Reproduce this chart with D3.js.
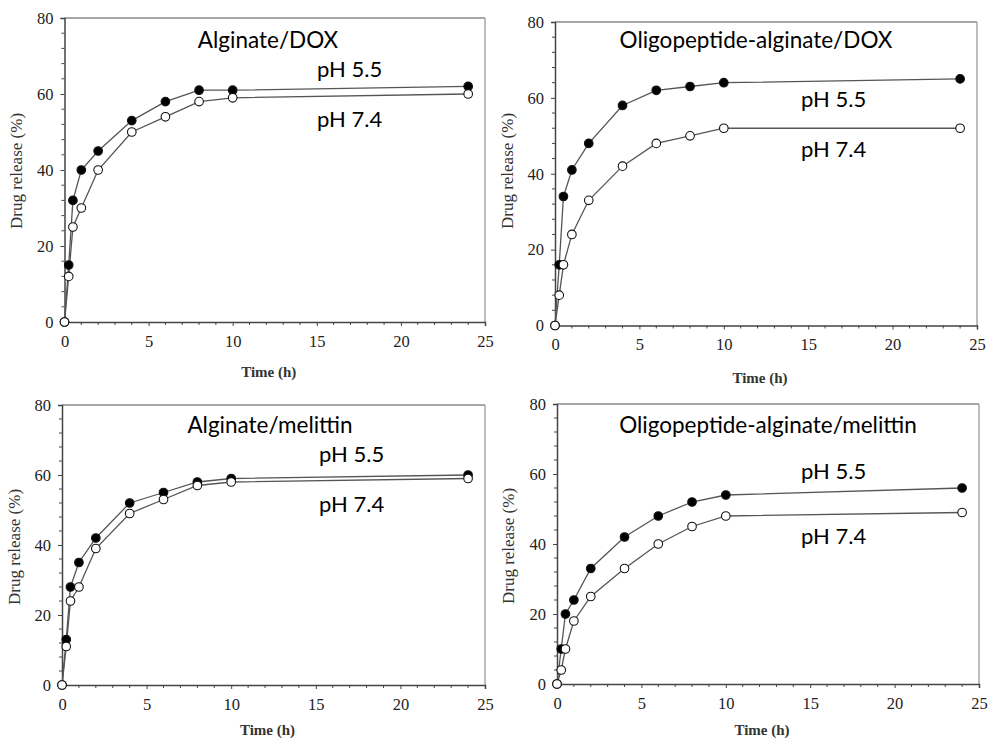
<!DOCTYPE html>
<html>
<head>
<meta charset="utf-8">
<script src="https://cdn.jsdelivr.net/npm/d3@7"></script>
<style>
  html, body { margin: 0; padding: 0; background: #fff; }
  svg { display: block; }
</style>
</head>
<body>
<svg id="chart" width="988" height="740"></svg>
<script>
// ---- data ----
const timePoints = [0, 0.25, 0.5, 1, 2, 4, 6, 8, 10, 24];
const panelTitles = ["Alginate/DOX", "Oligopeptide-alginate/DOX", "Alginate/melittin", "Oligopeptide-alginate/melittin"];
const seriesNames = ["pH 5.5", "pH 7.4"];
const alginateDOX_pH55 = [0, 15, 32, 40, 45, 53, 58, 61, 61, 62];
const alginateDOX_pH74 = [0, 12, 25, 30, 40, 50, 54, 58, 59, 60];
const oligoDOX_pH55 = [0, 16, 34, 41, 48, 58, 62, 63, 64, 65];
const oligoDOX_pH74 = [0, 8, 16, 24, 33, 42, 48, 50, 52, 52];
const alginateMel_pH55 = [0, 13, 28, 35, 42, 52, 55, 58, 59, 60];
const alginateMel_pH74 = [0, 11, 24, 28, 39, 49, 53, 57, 58, 59];
const oligoMel_pH55 = [0, 10, 20, 24, 33, 42, 48, 52, 54, 56];
const oligoMel_pH74 = [0, 4, 10, 18, 25, 33, 40, 45, 48, 49];
const xTicks = [0, 5, 10, 15, 20, 25];
const yTicks = [0, 20, 40, 60, 80];
const xLabel = "Time (h)";
const yLabel = "Drug release (%)";

// ---- layout ----
const panels = [
  { title: panelTitles[0], s55: alginateDOX_pH55, s74: alginateDOX_pH74,
    l: 64.5, r: 485, t: 18, b: 322, titleX: 268, titleY: 48, lblX: 317, lbl55Y: 77, lbl74Y: 127, xlY: 377, ylX: 22, ylY: 171 },
  { title: panelTitles[1], s55: oligoDOX_pH55, s74: oligoDOX_pH74,
    l: 555, r: 977, t: 22, b: 325.5, titleX: 756, titleY: 48, lblX: 801, lbl55Y: 107, lbl74Y: 157, xlY: 383, ylX: 513, ylY: 171 },
  { title: panelTitles[2], s55: alginateMel_pH55, s74: alginateMel_pH74,
    l: 62, r: 485, t: 405, b: 685, titleX: 270, titleY: 433, lblX: 319, lbl55Y: 462, lbl74Y: 512, xlY: 735, ylX: 20, ylY: 547 },
  { title: panelTitles[3], s55: oligoMel_pH55, s74: oligoMel_pH74,
    l: 557, r: 979, t: 404, b: 684, titleX: 768, titleY: 433, lblX: 801, lbl55Y: 479, lbl74Y: 544, xlY: 735, ylX: 514, ylY: 546 }
];

const svg = d3.select("#chart");
const serif = "'Liberation Serif', 'DejaVu Serif', serif";
const sans = "Lato, Carlito, 'Open Sans', sans-serif";

panels.forEach(p => {
  const g = svg.append("g");
  const x = d3.scaleLinear().domain([0, 25]).range([p.l, p.r]);
  const y = d3.scaleLinear().domain([0, 80]).range([p.b, p.t]);

  // frame (top and right)
  g.append("line").attr("x1", p.l).attr("x2", p.r).attr("y1", p.t).attr("y2", p.t)
    .attr("stroke", "#8a8a8a").attr("stroke-width", 1.5);
  g.append("line").attr("x1", p.r).attr("x2", p.r).attr("y1", p.t).attr("y2", p.b)
    .attr("stroke", "#9a9a9a").attr("stroke-width", 1.3);

  // minor ticks
  const xMinor = d3.range(0, 26, 1).filter(v => v % 5 !== 0);
  const yMinor = d3.range(0, 81, 4).filter(v => v % 20 !== 0);
  g.selectAll(null).data(xMinor).enter().append("line")
    .attr("x1", d => x(d)).attr("x2", d => x(d)).attr("y1", p.b).attr("y2", p.b + 3)
    .attr("stroke", "#444").attr("stroke-width", 1);
  g.selectAll(null).data(yMinor).enter().append("line")
    .attr("x1", p.l - 3).attr("x2", p.l).attr("y1", d => y(d)).attr("y2", d => y(d))
    .attr("stroke", "#444").attr("stroke-width", 1);

  // axes
  const xAxis = d3.axisBottom(x).tickValues(xTicks).tickFormat(d3.format("d")).tickSize(4).tickPadding(9);
  const yAxis = d3.axisLeft(y).tickValues(yTicks).tickFormat(d3.format("d")).tickSize(4).tickPadding(7);
  const gx = g.append("g").attr("transform", `translate(0,${p.b})`).call(xAxis);
  const gy = g.append("g").attr("transform", `translate(${p.l},0)`).call(yAxis);
  [gx, gy].forEach(ax => {
    ax.select(".domain").attr("stroke", "#444").attr("stroke-width", 1.5);
    ax.selectAll(".tick line").attr("stroke", "#444");
    ax.selectAll(".tick text").attr("font-family", serif).attr("font-size", 16.5).attr("fill", "#222");
  });

  // axis labels
  g.append("text").attr("x", (p.l + p.r) / 2 - 6).attr("y", p.xlY)
    .attr("text-anchor", "middle").attr("font-family", serif).attr("font-size", 15)
    .attr("font-weight", "bold").attr("fill", "#333").text(xLabel);
  g.append("text").attr("transform", `translate(${p.ylX},${p.ylY}) rotate(-90)`)
    .attr("text-anchor", "middle").attr("font-family", serif).attr("font-size", 17)
    .attr("fill", "#333").text(yLabel);

  // series
  const line = d3.line().x((d, i) => x(timePoints[i])).y(d => y(d));
  [p.s74, p.s55].forEach(s => {
    g.append("path").datum(s).attr("d", line).attr("fill", "none")
      .attr("stroke", "#555").attr("stroke-width", 1.3);
  });
  [[p.s55, "#000"], [p.s74, "#fff"]].forEach(([s, fill]) => {
    g.selectAll(null).data(s).enter().append("circle")
      .attr("cx", (d, i) => x(timePoints[i])).attr("cy", d => y(d)).attr("r", 4.3)
      .attr("fill", fill).attr("stroke", "#111").attr("stroke-width", 1.1);
  });

  // titles & labels
  g.append("text").attr("x", p.titleX).attr("y", p.titleY).attr("text-anchor", "middle")
    .attr("font-family", sans).attr("font-size", 22.5).attr("fill", "#000").text(p.title);
  g.append("text").attr("x", p.lblX).attr("y", p.lbl55Y)
    .attr("font-family", sans).attr("font-size", 22).attr("fill", "#000").text(seriesNames[0]);
  g.append("text").attr("x", p.lblX).attr("y", p.lbl74Y)
    .attr("font-family", sans).attr("font-size", 22).attr("fill", "#000").text(seriesNames[1]);
});
</script>
</body>
</html>
